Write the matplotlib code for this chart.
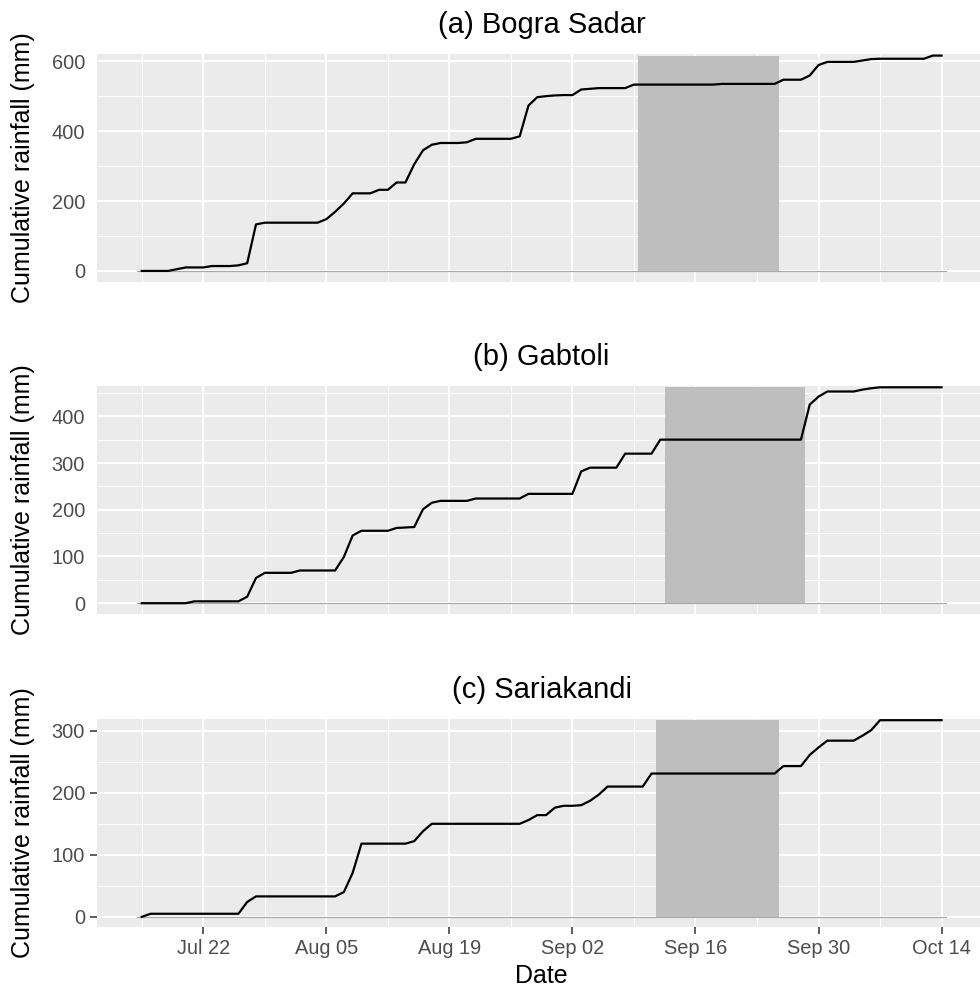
import matplotlib
matplotlib.use('Agg')
import matplotlib.pyplot as plt
import matplotlib.dates as mdates
import numpy as np
import pandas as pd

plt.rcParams['font.family'] = ['Liberation Sans', 'DejaVu Sans']

# daily dates, Jul 15 - Oct 14
dates = pd.date_range('2019-07-15', '2019-10-14', freq='D')

# cumulative rainfall (mm), one value per day
bogra = [0, 0, 0, 0, 5, 10, 10, 10, 14, 14,
         14, 16, 22, 133, 138, 138, 138, 138, 138, 138,
         138, 148, 169, 193, 222, 222, 222, 232, 232, 253,
         253, 305, 345, 361, 366, 366, 366, 368, 378, 378,
         378, 378, 378, 385, 473, 497, 500, 502, 503, 503,
         519, 521, 523, 523, 523, 523, 533, 533, 533, 533,
         533, 533, 533, 533, 533, 533, 535, 535, 535, 535,
         535, 535, 535, 547, 547, 547, 559, 589, 598, 598,
         598, 598, 602, 606, 607, 607, 607, 607, 607, 607,
         616, 616]
gabtoli = [0, 0, 0, 0, 0, 0, 4, 4, 4, 4,
           4, 4, 14, 54, 65, 65, 65, 65, 70, 70,
           70, 70, 70, 99, 145, 155, 155, 155, 155, 161,
           162, 163, 201, 215, 219, 219, 219, 219, 224, 224,
           224, 224, 224, 224, 234, 234, 234, 234, 234, 234,
           282, 290, 290, 290, 290, 320, 320, 320, 320, 350,
           350, 350, 350, 350, 350, 350, 350, 350, 350, 350,
           350, 350, 350, 350, 350, 350, 425, 442, 453, 453,
           453, 453, 457, 460, 462, 462, 462, 462, 462, 462,
           462, 462]
sariakandi = [0, 5, 5, 5, 5, 5, 5, 5, 5, 5,
              5, 5, 24, 33, 33, 33, 33, 33, 33, 33,
              33, 33, 33, 40, 71, 118, 118, 118, 118, 118,
              118, 122, 138, 150, 150, 150, 150, 150, 150, 150,
              150, 150, 150, 150, 156, 164, 164, 176, 179, 179,
              180, 187, 197, 210, 210, 210, 210, 210, 231, 231,
              231, 231, 231, 231, 231, 231, 231, 231, 231, 231,
              231, 231, 231, 243, 243, 243, 261, 273, 284, 284,
              284, 284, 292, 301, 317, 317, 317, 317, 317, 317,
              317, 317]

series = [bogra, gabtoli, sariakandi]
titles = ['(a) Bogra Sadar', '(b) Gabtoli', '(c) Sariakandi']
shade_start = ['2019-09-10', '2019-09-13', '2019-09-12']
shade_end = ['2019-09-25', '2019-09-28', '2019-09-25']
ystep = [200, 100, 100]

major_dates = pd.date_range('2019-07-22', '2019-10-14', freq='14D')
minor_dates = pd.date_range('2019-07-15', '2019-10-07', freq='14D')

W, H = 980, 989
fig = plt.figure(figsize=(W / 100, H / 100), dpi=100)
fig.patch.set_facecolor('white')

# panel top/bottom in pixels
boxes = [(54.3, 281.7), (386, 614), (719, 926.7)]
left = 96.9 / W
width = 889.5 / W

x = mdates.date2num(dates)
major_x = mdates.date2num(major_dates)
minor_x = mdates.date2num(minor_dates)

for i in range(3):
    top, bot = boxes[i]
    ax = fig.add_axes([left, 1 - bot / H, width, (bot - top) / H])
    ax.set_facecolor('#EBEBEB')
    y = np.array(series[i], dtype=float)
    M = y.max()

    # zero reference line over the data range
    ax.plot([x[0] - 0.5, x[-1] + 0.5], [0, 0], color='#a8a8a8', lw=0.8, zorder=2)
    s0 = mdates.date2num(pd.Timestamp(shade_start[i])) - 0.5
    s1 = mdates.date2num(pd.Timestamp(shade_end[i])) + 0.5
    ax.fill_between([s0, s1], 0, M, color='#bebebe', lw=0, zorder=2)
    ax.plot(x, y, color='black', lw=1.6, zorder=3)

    span = (x[-1] + 0.5) - (x[0] - 0.5)
    ax.set_xlim(x[0] - 0.5 - 0.05 * span, x[-1] + 0.5 + 0.05 * span)
    ax.set_ylim(-0.05 * M, M * 1.006)

    ax.set_xticks(major_x)
    ax.set_xticks(minor_x, minor=True)
    ax.xaxis.set_major_formatter(mdates.DateFormatter('%b %d'))
    step = ystep[i]
    ax.set_yticks(np.arange(0, M * 1.006, step))
    ax.set_yticks(np.arange(step / 2, M * 1.006, step), minor=True)

    ax.set_axisbelow(True)
    ax.grid(which='major', color='white', lw=1.4)
    ax.grid(which='minor', color='white', lw=0.7)
    for sp in ax.spines.values():
        sp.set_visible(False)

    ax.tick_params(which='minor', length=0)
    ax.tick_params(axis='both', which='major', labelsize=14.4, labelcolor='#4D4D4D',
                   length=4.8, width=1.1, color='#333333', pad=3.8)
    if i < 2:
        ax.tick_params(axis='x', which='major', length=0, labelbottom=False)
        ax.tick_params(axis='y', which='major', color=(0, 0, 0, 0))
    else:
        ax.set_xlabel('Date', fontsize=18, color='black', va='baseline')
        ax.xaxis.set_label_coords(0.5, -(983.3 - bot) / (bot - top))

    ax.set_title(titles[i], fontsize=21, color='black', pad=15)
    ax.set_ylabel('Cumulative rainfall (mm)', fontsize=18, color='black')
    ax.yaxis.label.set_va('center')
    ax.yaxis.set_label_coords((23 - 96.9) / 889.5, 0.5)

fig.savefig('out.png', dpi=100)
